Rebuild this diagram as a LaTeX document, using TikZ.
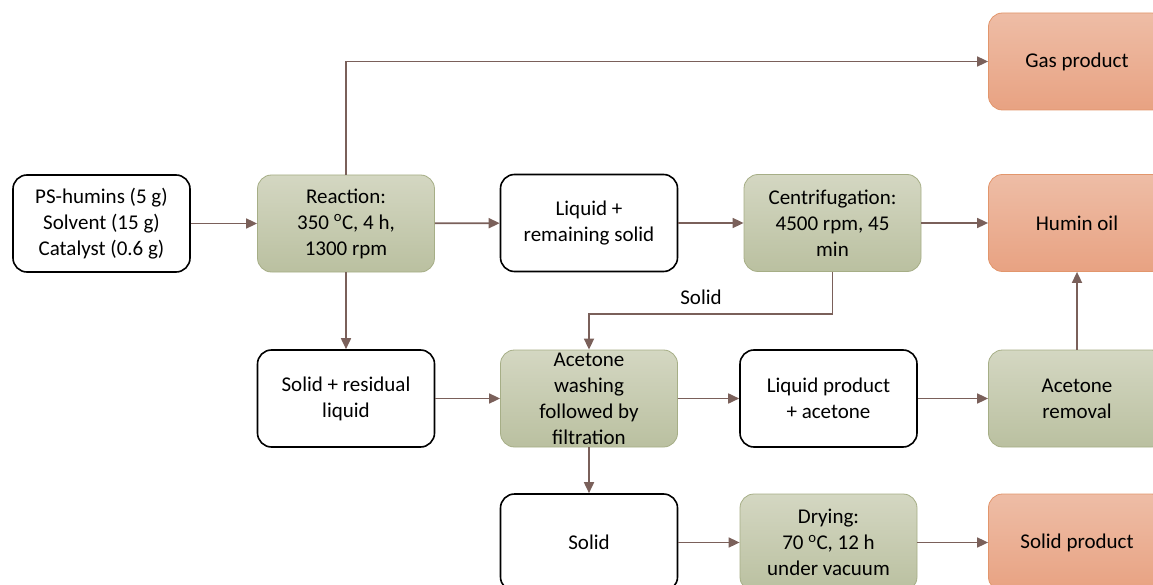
\documentclass[tikz,border=0pt]{standalone}
\usepackage{fontspec}
\setmainfont{Carlito}
\usetikzlibrary{arrows.meta,shadings,positioning}
\definecolor{arr}{RGB}{122,96,90}
\definecolor{gtop}{RGB}{212,215,194}
\definecolor{gbot}{RGB}{186,192,160}
\definecolor{gbd}{RGB}{166,174,134}
\definecolor{otop}{RGB}{238,189,166}
\definecolor{obot}{RGB}{232,162,130}
\definecolor{obd}{RGB}{226,150,108}
\tikzset{
  box/.style={rounded corners=14pt, minimum width=177pt, minimum height=97pt, align=center,
    font=\fontsize{21}{26}\selectfont, inner sep=0pt},
  wbox/.style={box, draw=black, line width=1.6pt, fill=white},
  gbox/.style={box, draw=gbd, line width=0.8pt, top color=gtop, bottom color=gbot},
  obox/.style={box, draw=obd, line width=0.8pt, top color=otop, bottom color=obot},
  conn/.style={draw=arr, line width=1.7pt, -{Triangle[length=11pt,width=10pt]}},
}
\begin{document}
\begin{tikzpicture}[x=1pt,y=-1pt]
\useasboundingbox (0,0) rectangle (1153,585);
\clip (0,0) rectangle (1153,585);
% row 1
\node[obox] (gas) at (1077,61.5) {Gas product};
% row 2
\node[wbox] (in) at (101.5,223.5) {PS-humins (5 g)\\Solvent (15 g)\\Catalyst (0.6 g)};
\node[gbox] (rx) at (346,223.5) {Reaction:\\350 \textsuperscript{o}C, 4 h,\\1300 rpm};
\node[wbox] (liq) at (589,223) {Liquid +\\remaining solid};
\node[gbox] (cen) at (832.5,223) {Centrifugation:\\4500 rpm, 45\\min};
\node[obox] (oil) at (1077,223) {Humin oil};
% row 3
\node[wbox] (sres) at (346,398.5) {Solid + residual\\liquid};
\node[gbox] (wash) at (589,398.5) {Acetone\\washing\\followed by\\filtration};
\node[wbox] (lpa) at (828.5,398.5) {Liquid product\\+ acetone};
\node[gbox] (rem) at (1077,398.5) {Acetone\\removal};
% row 4
\node[wbox] (sol) at (589,542.5) {Solid};
\node[gbox] (dry) at (828.5,542.5) {Drying:\\70 \textsuperscript{o}C, 12 h\\under vacuum};
\node[obox] (sp) at (1077,542.5) {Solid product};
% connectors
\draw[conn] (in) -- (rx);
\draw[conn] (rx.north) |- (gas.west);
\draw[conn] (rx) -- (liq);
\draw[conn] (liq) -- (cen);
\draw[conn] (cen) -- (oil);
\draw[conn] (cen.south) -- ++(0,42) coordinate (c1) -| (wash.north);
\node[font=\fontsize{21}{24}\selectfont] (slab) at (701,297) {Solid};
\draw[conn] (rx.south) -- (sres.north);
\draw[conn] (sres) -- (wash);
\draw[conn] (wash) -- (lpa);
\draw[conn] (lpa) -- (rem);
\draw[conn] (rem.north) -- (oil.south);
\draw[conn] (wash.south) -- (sol.north);
\draw[conn] (sol) -- (dry);
\draw[conn] (dry) -- (sp);
\end{tikzpicture}
\end{document}
